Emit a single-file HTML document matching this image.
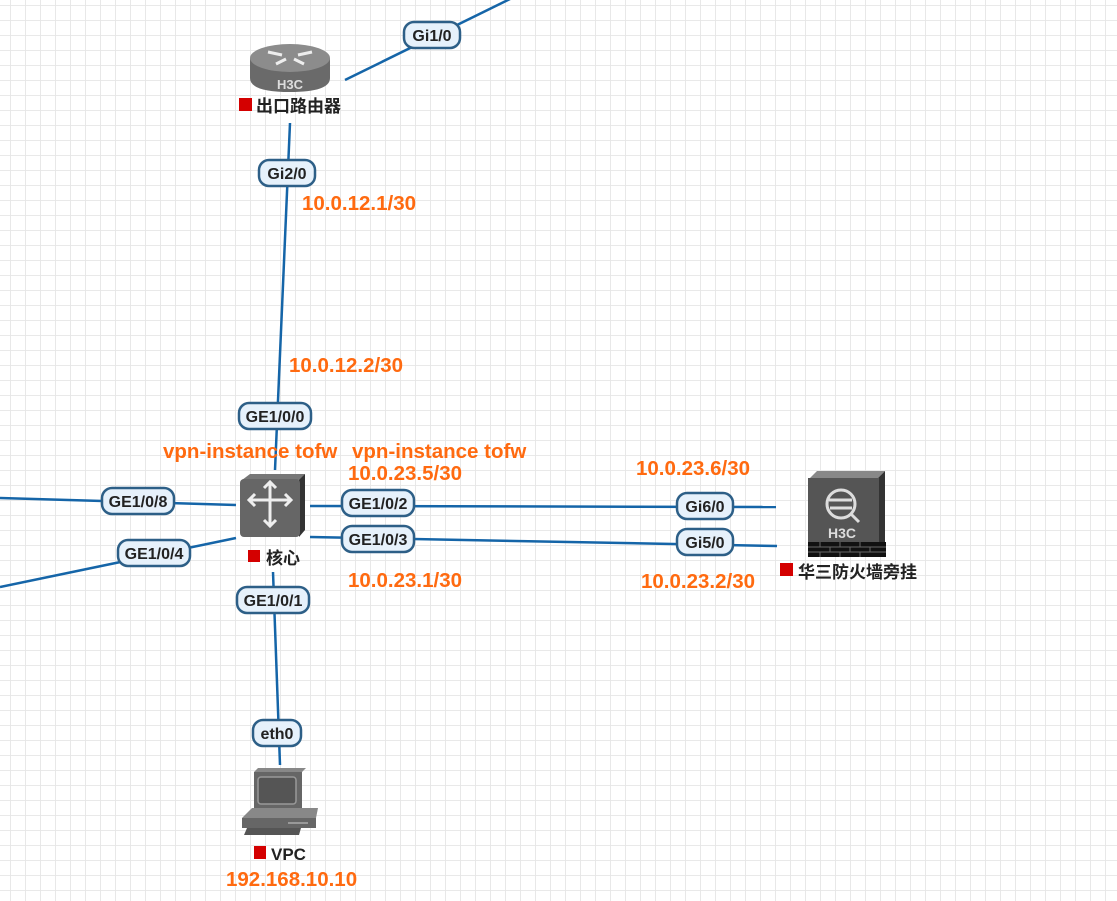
<!DOCTYPE html>
<html><head><meta charset="utf-8"><style>
html,body{margin:0;padding:0;background:#fff;}
svg{display:block;}
text{font-family:"Liberation Sans","Noto Sans CJK SC",sans-serif;font-weight:bold;}
.lb rect{fill:#e6f1fb;stroke:#2d5f87;stroke-width:2.5;}
.lb text{font-size:16px;fill:#222;text-anchor:middle;}
.or{font-size:20.5px;fill:#ff6a10;}
.dn{font-size:17px;fill:#222;}
.ln{stroke:#1565a8;stroke-width:2.5;fill:none;}
</style></head><body>
<svg width="1117" height="901" viewBox="0 0 1117 901" xmlns="http://www.w3.org/2000/svg">
<defs>
<pattern id="g" x="10" y="5" width="15" height="15" patternUnits="userSpaceOnUse">
<path d="M0 0H15M0 0V15" stroke="#e6e6e6" stroke-width="1.8" fill="none"/>
</pattern>
</defs>
<rect width="1117" height="901" fill="url(#g)"/>

<line class="ln" x1="345" y1="80" x2="512" y2="-2"/>
<line class="ln" x1="290" y1="123" x2="275" y2="470"/>
<line class="ln" x1="0" y1="498" x2="236" y2="505"/>
<line class="ln" x1="0" y1="587" x2="236" y2="538"/>
<line class="ln" x1="310" y1="506" x2="776" y2="507"/>
<line class="ln" x1="310" y1="537" x2="777" y2="546"/>
<line class="ln" x1="273" y1="572" x2="280" y2="765"/>

<g>
<path d="M250 58 V78 Q250 92 290 92 Q330 92 330 78 V58 Z" fill="#6a6a6a"/>
<ellipse cx="290" cy="58" rx="40" ry="14" fill="#8c8c8c"/>
<path d="M268 52 l14 3 M312 52 l-14 3 M276 64 l10 -5 M304 64 l-10 -5" stroke="#eee" stroke-width="3"/>
<text x="290" y="89" font-size="13" fill="#ddd" text-anchor="middle">H3C</text>
</g>
<rect x="239" y="98" width="13" height="13" fill="#d40000"/>
<text class="dn" x="256" y="112">出口路由器</text>

<g>
<path d="M242 480 L250 474 H305 L300 480 Z" fill="#777"/>
<path d="M299 480 L305 474 V530 L299 537 Z" fill="#333"/>
<rect x="240" y="479" width="60" height="58" rx="4" fill="#666"/>
<path d="M255 494 l-6 6 6 6 M285 494 l6 6 -6 6 M264 488 l6 -6 6 6 M264 520 l6 6 6 -6 M249 500 H291 M270 482 V526" stroke="#eee" stroke-width="3" fill="none"/>
</g>
<rect x="248" y="550" width="12" height="12" fill="#d40000"/>
<text class="dn" x="266" y="564">核心</text>

<g>
<path d="M810 478 L817 471 H885 L878 478 Z" fill="#888"/>
<path d="M878 478 L885 471 V550 L878 557 Z" fill="#333"/>
<rect x="808" y="478" width="71" height="79" fill="#555"/>
<circle cx="841" cy="504" r="14" stroke="#ddd" stroke-width="3" fill="none"/>
<path d="M829 500 H852 M830 508 H852 M851 514 l8 8" stroke="#ddd" stroke-width="3"/>
<text x="842" y="538" font-size="14" fill="#ddd" text-anchor="middle">H3C</text>
<rect x="808" y="542" width="78" height="15" fill="#111"/>
<path d="M808 547 H886 M808 552 H886 M820 542 V547 M840 542 V547 M860 542 V547 M830 547 V552 M850 547 V552 M870 547 V552 M820 552 V557 M840 552 V557 M860 552 V557" stroke="#666" stroke-width="1"/>
</g>
<rect x="780" y="563" width="13" height="13" fill="#d40000"/>
<text class="dn" x="798" y="578">华三防火墙旁挂</text>

<g>
<path d="M254 772 L258 768 H306 L302 772 Z" fill="#888"/>
<rect x="254" y="772" width="48" height="38" fill="#666"/>
<rect x="258" y="777" width="38" height="27" rx="3" fill="#555" stroke="#999" stroke-width="1.5"/>
<path d="M242 818 L252 808 H318 L316 818 Z" fill="#888"/>
<rect x="242" y="818" width="74" height="10" fill="#666"/>
<path d="M247 828 H301 L299 835 H244 Z" fill="#555"/>
<line x1="288" y1="823" x2="308" y2="823" stroke="#aaa" stroke-width="1.5"/>
</g>
<rect x="254" y="846" width="12" height="13" fill="#d40000"/>
<text class="dn" x="271" y="860">VPC</text>

<g class="lb"><rect x="404" y="22" width="56" height="26" rx="10"/><text x="432" y="41">Gi1/0</text></g>
<g class="lb"><rect x="259" y="160" width="56" height="26" rx="10"/><text x="287" y="179">Gi2/0</text></g>
<g class="lb"><rect x="239" y="403" width="72" height="26" rx="10"/><text x="275" y="422">GE1/0/0</text></g>
<g class="lb"><rect x="102" y="488" width="72" height="26" rx="10"/><text x="138" y="507">GE1/0/8</text></g>
<g class="lb"><rect x="118" y="540" width="72" height="26" rx="10"/><text x="154" y="559">GE1/0/4</text></g>
<g class="lb"><rect x="342" y="490" width="72" height="26" rx="10"/><text x="378" y="509">GE1/0/2</text></g>
<g class="lb"><rect x="342" y="526" width="72" height="26" rx="10"/><text x="378" y="545">GE1/0/3</text></g>
<g class="lb"><rect x="237" y="587" width="72" height="26" rx="10"/><text x="273" y="606">GE1/0/1</text></g>
<g class="lb"><rect x="677" y="493" width="56" height="26" rx="10"/><text x="705" y="512">Gi6/0</text></g>
<g class="lb"><rect x="677" y="529" width="56" height="26" rx="10"/><text x="705" y="548">Gi5/0</text></g>
<g class="lb"><rect x="253" y="720" width="48" height="26" rx="10"/><text x="277" y="739">eth0</text></g>

<text class="or" x="302" y="210">10.0.12.1/30</text>
<text class="or" x="289" y="372">10.0.12.2/30</text>
<text class="or" x="163" y="458">vpn-instance tofw</text>
<text class="or" x="352" y="458">vpn-instance tofw</text>
<text class="or" x="348" y="480">10.0.23.5/30</text>
<text class="or" x="636" y="475">10.0.23.6/30</text>
<text class="or" x="348" y="587">10.0.23.1/30</text>
<text class="or" x="641" y="588">10.0.23.2/30</text>
<text class="or" x="226" y="886">192.168.10.10</text>
</svg>
</body></html>
